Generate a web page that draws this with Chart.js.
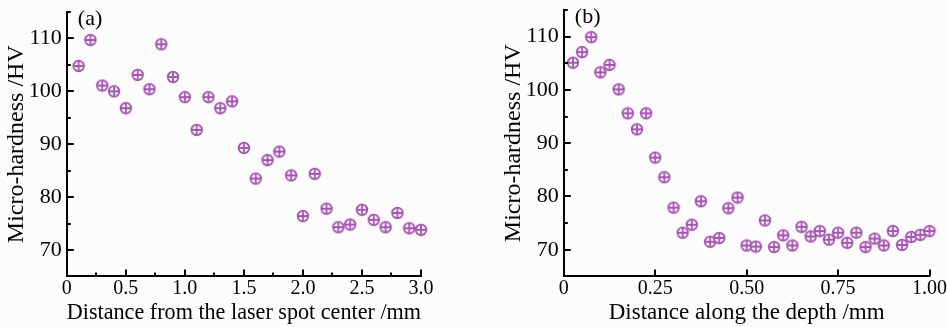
<!DOCTYPE html>
<html>
<head>
<meta charset="utf-8">
<script src="https://cdn.jsdelivr.net/npm/chart.js@4.4.1/dist/chart.umd.min.js"></script>
<style>
  html, body { margin: 0; padding: 0; background: #fcfcfc; }
  #wrap { display: flex; width: 947px; height: 327px; }
  .panel { position: relative; height: 327px; }
  #pa { width: 470px; }
  #pb { width: 477px; }
</style>
</head>
<body>
<div id="wrap">
  <div class="panel" id="pa"><canvas id="chartA"></canvas></div>
  <div class="panel" id="pb"><canvas id="chartB"></canvas></div>
</div>
<script>
// --- DATA ---
// (a) distance from the laser spot centre
const distA = [0.1, 0.2, 0.3, 0.4, 0.5, 0.6, 0.7, 0.8, 0.9, 1.0,
               1.1, 1.2, 1.3, 1.4, 1.5, 1.6, 1.7, 1.8, 1.9, 2.0,
               2.1, 2.2, 2.3, 2.4, 2.5, 2.6, 2.7, 2.8, 2.9, 3.0];
const hvA = [104.8, 109.7, 101.1, 100.0, 96.8, 103.1, 100.4, 108.9, 102.7, 98.9,
             92.7, 98.9, 96.8, 98.1, 89.3, 83.5, 87.0, 88.6, 84.1, 76.4,
             84.4, 77.8, 74.3, 74.8, 77.6, 75.7, 74.3, 77.0, 74.1, 73.8];

// (b) distance along the depth
const depthB = [0.025, 0.05, 0.075, 0.1, 0.125, 0.15, 0.175, 0.2, 0.225, 0.25,
                0.275, 0.3, 0.325, 0.35, 0.375, 0.4, 0.425, 0.45, 0.475, 0.5,
                0.525, 0.55, 0.575, 0.6, 0.625, 0.65, 0.675, 0.7, 0.725, 0.75,
                0.775, 0.8, 0.825, 0.85, 0.875, 0.9, 0.925, 0.95, 0.975, 1.0];
const hvB = [105.1, 107.1, 109.9, 103.3, 104.7, 100.1, 95.6, 92.6, 95.6, 87.3,
             83.6, 77.9, 73.2, 74.7, 79.1, 71.5, 72.2, 77.8, 79.8, 70.8,
             70.6, 75.5, 70.5, 72.7, 70.8, 74.3, 72.5, 73.5, 71.9, 73.2,
             71.3, 73.2, 70.5, 72.1, 70.8, 73.5, 70.9, 72.4, 72.8, 73.5];

// tick values / labels
const yTicks = [70, 80, 90, 100, 110];
const yMinor = [75, 85, 95, 105, 115];
const xTicksA = [0, 0.5, 1.0, 1.5, 2.0, 2.5, 3.0];
const xLabelsA = ['0', '0.5', '1.0', '1.5', '2.0', '2.5', '3.0'];
const xMinorA = [0.25, 0.75, 1.25, 1.75, 2.25, 2.75];
const xTicksB = [0, 0.25, 0.5, 0.75, 1.0];
const xLabelsB = ['0', '0.25', '0.50', '0.75', '1.00'];
const xMinorB = [];

// --- STYLE ---
const FONT = "'Liberation Serif', 'Times New Roman', serif";
const PURPLE = '#a753b4';

// circle-plus marker
function makeMarker() {
    const c = document.createElement('canvas');
    c.width = 14; c.height = 14;
    const g = c.getContext('2d');
    g.strokeStyle = PURPLE;
    g.lineWidth = 1.8;
    g.fillStyle = '#fcfcfc';
    g.beginPath();
    g.arc(7, 7, 5.3, 0, Math.PI * 2);
    g.fill();
    g.stroke();
    g.beginPath();
    g.moveTo(7, 2); g.lineTo(7, 12);
    g.moveTo(2, 7); g.lineTo(12, 7);
    g.stroke();
    return c;
}
const marker = makeMarker();

// inward major/minor ticks + panel letter (one plugin per chart)
function inwardTicks(xMajor, xMinor, letter) {
    return {
        id: 'inwardTicks',
        afterDraw(chart) {
            const { ctx, chartArea, scales } = chart;
            const bottom = chartArea.bottom, left = chartArea.left;
            ctx.save();
            ctx.strokeStyle = '#000';
            ctx.lineWidth = 2;
            ctx.beginPath();
            xMajor.forEach(v => {
                const px = Math.round(scales.x.getPixelForValue(v));
                ctx.moveTo(px, bottom); ctx.lineTo(px, bottom - 7);
            });
            xMinor.forEach(v => {
                const px = Math.round(scales.x.getPixelForValue(v));
                ctx.moveTo(px, bottom); ctx.lineTo(px, bottom - 4);
            });
            yTicks.forEach(v => {
                const py = Math.round(scales.y.getPixelForValue(v));
                ctx.moveTo(left, py); ctx.lineTo(left + 7, py);
            });
            yMinor.forEach(v => {
                const py = Math.round(scales.y.getPixelForValue(v));
                ctx.moveTo(left, py); ctx.lineTo(left + 4, py);
            });
            ctx.stroke();

            ctx.fillStyle = '#000';
            ctx.font = '22px ' + FONT;
            ctx.textBaseline = 'top';
            ctx.fillText(letter, left + 11, chartArea.top - 4);
            ctx.restore();
        }
    };
}

function buildChart(id, xs, ys, xMax, xTicks, xLabels, xMinor, xTitle, letter, pad) {
    return new Chart(document.getElementById(id), {
        type: 'scatter',
        data: {
            datasets: [{
                data: xs.map((x, i) => ({ x: x, y: ys[i] })),
                pointStyle: marker,
                pointRadius: 6,
                pointHoverRadius: 6,
                clip: false
            }]
        },
        options: {
            responsive: true,
            maintainAspectRatio: false,
            animation: false,
            events: [],
            layout: { padding: pad },
            plugins: {
                legend: { display: false },
                tooltip: { enabled: false }
            },
            scales: {
                x: {
                    type: 'linear',
                    min: 0, max: xMax,
                    afterBuildTicks: axis => { axis.ticks = xTicks.map(v => ({ value: v })); },
                    grid: { drawOnChartArea: false, drawTicks: false },
                    border: { display: true, color: '#000', width: 2 },
                    ticks: {
                        color: '#000',
                        font: { family: FONT, size: 20 },
                        padding: 0,
                        maxRotation: 0,
                        autoSkip: false,
                        callback: (v, i) => xLabels[i]
                    },
                    title: {
                        display: true, text: xTitle, color: '#000',
                        font: { family: FONT, size: 23 },
                        padding: { top: -1, bottom: 0 }
                    }
                },
                y: {
                    type: 'linear',
                    min: 65, max: 115,
                    afterBuildTicks: axis => { axis.ticks = yTicks.map(v => ({ value: v })); },
                    afterFit: axis => { axis.paddingTop = 0; axis.paddingBottom = 0; },
                    grid: { drawOnChartArea: false, drawTicks: false },
                    border: { display: true, color: '#000', width: 2 },
                    ticks: {
                        color: '#000',
                        font: { family: FONT, size: 22 },
                        padding: 5
                    },
                    title: {
                        display: true, text: 'Micro-hardness /HV', color: '#000',
                        font: { family: FONT, size: 24 },
                        padding: { top: 0, bottom: -7 }
                    }
                }
            }
        },
        plugins: [inwardTicks(xTicks, xMinor, letter)]
    });
}

buildChart('chartA', distA, hvA, 3.0, xTicksA, xLabelsA, xMinorA,
    'Distance from the laser spot center /mm', '(a)',
    { left: 2, right: 49, top: 12, bottom: 0 });
buildChart('chartB', depthB, hvB, 1.0, xTicksB, xLabelsB, xMinorB,
    'Distance along the depth /mm', '(b)',
    { left: 29, right: 17, top: 10, bottom: 0 });
</script>
</body>
</html>
